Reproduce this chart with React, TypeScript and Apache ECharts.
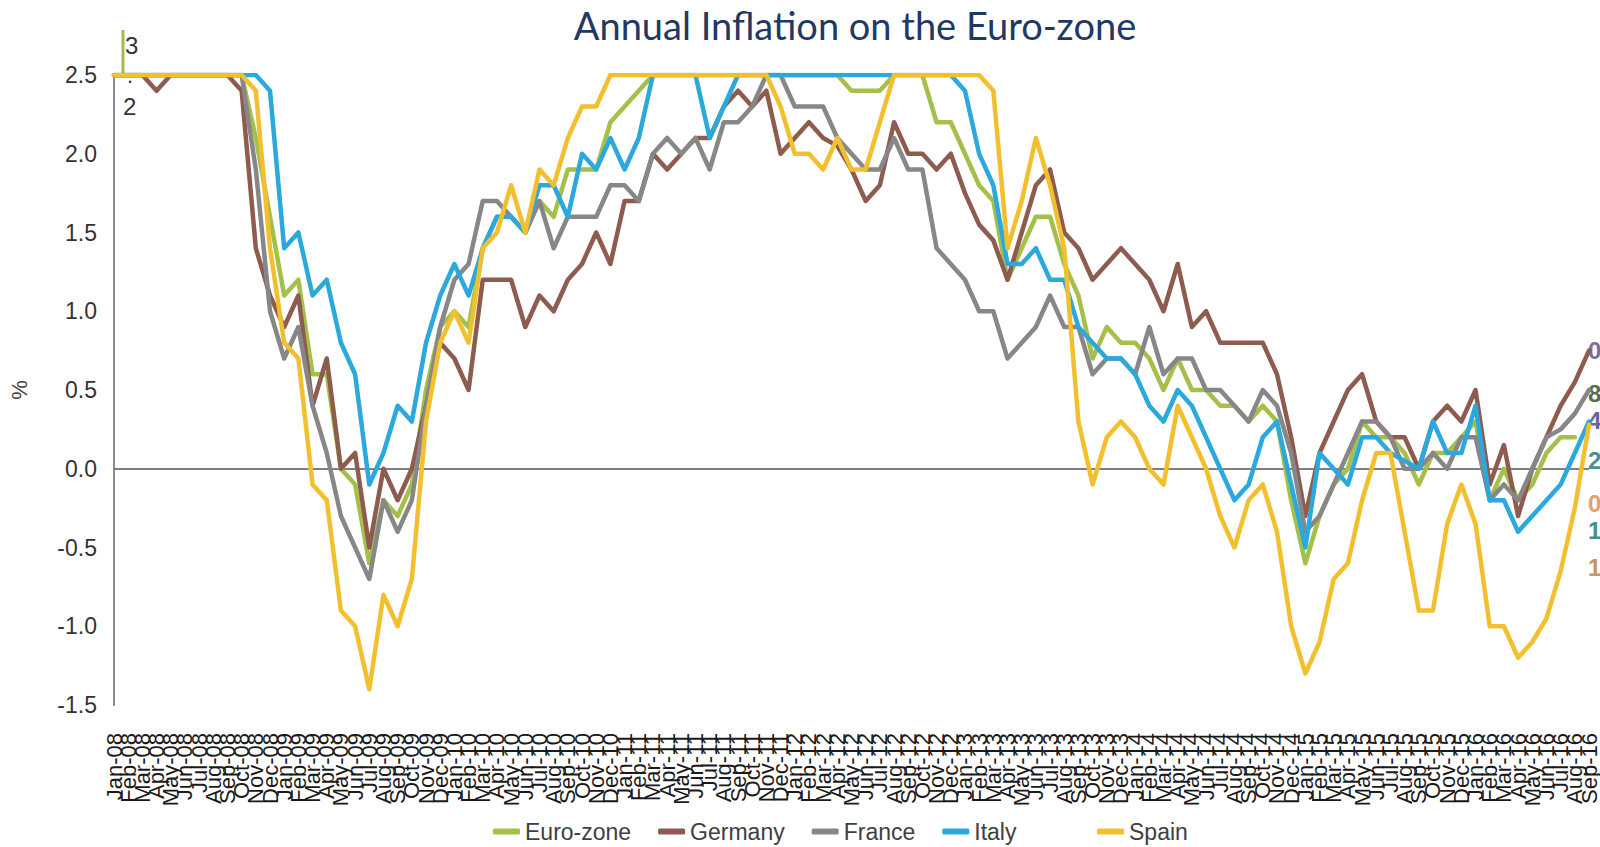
import React, { useEffect, useRef } from "react";
import * as echarts from "echarts";

// ---- Tick labels / categories ----
const MONTHS = ["Jan", "Feb", "Mar", "Apr", "May", "Jun", "Jul", "Aug", "Sep", "Oct", "Nov", "Dec"];
const YEARS = ["08", "09", "10", "11", "12", "13", "14", "15", "16"];
const MONTHS_IN_LAST_YEAR = 9; // Jan-16 .. Sep-16

const categories: string[] = [];
YEARS.forEach((y, yi) => {
  MONTHS.forEach((m, mi) => {
    if (yi < YEARS.length - 1 || mi < MONTHS_IN_LAST_YEAR) categories.push(`${m}-${y}`);
  });
});

// ---- Series values (annual inflation, %; values above the axis top read as 2.5) ----
const euroZone = [
  2.5, 2.5, 2.5, 2.5, 2.5, 2.5, 2.5, 2.5, 2.5, 2.5, 2.1, 1.6,
  1.1, 1.2, 0.6, 0.6, 0.0, -0.1, -0.6, -0.2, -0.3, -0.1, 0.5, 0.9,
  1.0, 0.9, 1.4, 1.6, 1.6, 1.5, 1.7, 1.6, 1.9, 1.9, 1.9, 2.2,
  2.3, 2.4, 2.5, 2.5, 2.5, 2.5, 2.5, 2.5, 2.5, 2.5, 2.5, 2.5,
  2.5, 2.5, 2.5, 2.5, 2.4, 2.4, 2.4, 2.5, 2.5, 2.5, 2.2, 2.2,
  2.0, 1.8, 1.7, 1.2, 1.4, 1.6, 1.6, 1.3, 1.1, 0.7, 0.9, 0.8,
  0.8, 0.7, 0.5, 0.7, 0.5, 0.5, 0.4, 0.4, 0.3, 0.4, 0.3, -0.2,
  -0.6, -0.3, -0.1, 0.0, 0.3, 0.2, 0.2, 0.1, -0.1, 0.1, 0.1, 0.2,
  0.3, -0.2, 0.0, -0.2, -0.1, 0.1, 0.2, 0.2,
];
const germany = [
  2.5, 2.5, 2.5, 2.4, 2.5, 2.5, 2.5, 2.5, 2.5, 2.4, 1.4, 1.1,
  0.9, 1.1, 0.4, 0.7, 0.0, 0.1, -0.5, 0.0, -0.2, 0.0, 0.4, 0.8,
  0.7, 0.5, 1.2, 1.2, 1.2, 0.9, 1.1, 1.0, 1.2, 1.3, 1.5, 1.3,
  1.7, 1.7, 2.0, 1.9, 2.0, 2.1, 2.1, 2.3, 2.4, 2.3, 2.4, 2.0,
  2.1, 2.2, 2.1, 2.05, 1.9, 1.7, 1.8, 2.2, 2.0, 2.0, 1.9, 2.0,
  1.75, 1.55, 1.45, 1.2, 1.5, 1.8, 1.9, 1.5, 1.4, 1.2, 1.3, 1.4,
  1.3, 1.2, 1.0, 1.3, 0.9, 1.0, 0.8, 0.8, 0.8, 0.8, 0.6, 0.2,
  -0.3, 0.1, 0.3, 0.5, 0.6, 0.3, 0.2, 0.2, 0.0, 0.3, 0.4, 0.3,
  0.5, -0.1, 0.15, -0.3, 0.0, 0.2, 0.4, 0.55, 0.75,
];
const france = [
  2.5, 2.5, 2.5, 2.5, 2.5, 2.5, 2.5, 2.5, 2.5, 2.5, 1.9, 1.0,
  0.7, 0.9, 0.4, 0.1, -0.3, -0.5, -0.7, -0.2, -0.4, -0.2, 0.4, 0.9,
  1.2, 1.3, 1.7, 1.7, 1.6, 1.5, 1.7, 1.4, 1.6, 1.6, 1.6, 1.8,
  1.8, 1.7, 2.0, 2.1, 2.0, 2.1, 1.9, 2.2, 2.2, 2.3, 2.5, 2.5,
  2.3, 2.3, 2.3, 2.1, 2.0, 1.9, 1.9, 2.1, 1.9, 1.9, 1.4, 1.3,
  1.2, 1.0, 1.0, 0.7, 0.8, 0.9, 1.1, 0.9, 0.9, 0.6, 0.7, 0.7,
  0.6, 0.9, 0.6, 0.7, 0.7, 0.5, 0.5, 0.4, 0.3, 0.5, 0.4, 0.1,
  -0.4, -0.3, -0.1, 0.1, 0.3, 0.3, 0.2, 0.0, 0.0, 0.1, 0.0, 0.2,
  0.2, -0.2, -0.1, -0.2, 0.0, 0.2, 0.25, 0.35, 0.5,
];
const italy = [
  2.5, 2.5, 2.5, 2.5, 2.5, 2.5, 2.5, 2.5, 2.5, 2.5, 2.5, 2.4,
  1.4, 1.5, 1.1, 1.2, 0.8, 0.6, -0.1, 0.1, 0.4, 0.3, 0.8, 1.1,
  1.3, 1.1, 1.4, 1.6, 1.6, 1.5, 1.8, 1.8, 1.6, 2.0, 1.9, 2.1,
  1.9, 2.1, 2.5, 2.5, 2.5, 2.5, 2.1, 2.3, 2.5, 2.5, 2.5, 2.5,
  2.5, 2.5, 2.5, 2.5, 2.5, 2.5, 2.5, 2.5, 2.5, 2.5, 2.5, 2.5,
  2.4, 2.0, 1.8, 1.3, 1.3, 1.4, 1.2, 1.2, 0.9, 0.8, 0.7, 0.7,
  0.6, 0.4, 0.3, 0.5, 0.4, 0.2, 0.0, -0.2, -0.1, 0.2, 0.3, -0.1,
  -0.5, 0.1, 0.0, -0.1, 0.2, 0.2, 0.1, 0.05, 0.0, 0.3, 0.1, 0.1,
  0.4, -0.2, -0.2, -0.4, -0.3, -0.2, -0.1, 0.1, 0.3,
];
const spain = [
  2.5, 2.5, 2.5, 2.5, 2.5, 2.5, 2.5, 2.5, 2.5, 2.5, 2.4, 1.4,
  0.8, 0.7, -0.1, -0.2, -0.9, -1.0, -1.4, -0.8, -1.0, -0.7, 0.3, 0.8,
  1.0, 0.8, 1.4, 1.5, 1.8, 1.5, 1.9, 1.8, 2.1, 2.3, 2.3, 2.5,
  2.5, 2.5, 2.5, 2.5, 2.5, 2.5, 2.5, 2.5, 2.5, 2.5, 2.5, 2.3,
  2.0, 2.0, 1.9, 2.1, 1.9, 1.9, 2.2, 2.5, 2.5, 2.5, 2.5, 2.5,
  2.5, 2.5, 2.4, 1.4, 1.7, 2.1, 1.8, 1.4, 0.3, -0.1, 0.2, 0.3,
  0.2, 0.0, -0.1, 0.4, 0.2, 0.0, -0.3, -0.5, -0.2, -0.1, -0.4, -1.0,
  -1.3, -1.1, -0.7, -0.6, -0.2, 0.1, 0.1, -0.4, -0.9, -0.9, -0.35, -0.1,
  -0.35, -1.0, -1.0, -1.2, -1.1, -0.95, -0.65, -0.25, 0.28,
];

const SERIES_NAMES = ["Euro-zone", "Germany", "France", "Italy", "Spain"];
const SERIES_DATA = [euroZone, germany, france, italy, spain];
const SERIES_COLORS = ["#A4C04B", "#8E5B4F", "#878787", "#2BA8DC", "#F2BF2F"];

// Y axis ticks
const Y_MIN = -1.5;
const Y_MAX = 2.5;
const Y_STEP = 0.5;

// Clipped data-label fragments seen at the chart edges
const FIRST_LABEL_CHARS = ["3", ".", "2"];
const END_LABEL_CHARS = ["0", "8", "4", "2", "0", "1", "1"];
const END_LABEL_COLORS = ["#7B6F96", "#55704E", "#6A61A0", "#4E8F8C", "#E0A070", "#4A8A95", "#C8946A"];
const END_LABEL_Y = [350, 393, 420, 460, 503, 530, 567];

const FONT = "'Liberation Sans', Arial, sans-serif";

export default function App() {
  const ref = useRef<HTMLDivElement>(null);

  useEffect(() => {
    document.body.style.margin = "0";
    if (!ref.current) return;
    const chart = echarts.init(ref.current, null, { renderer: "svg" });

    const series: any[] = SERIES_NAMES.map((name, i) => ({
      name,
      type: "line",
      data: SERIES_DATA[i],
      showSymbol: false,
      symbol: "none",
      z: 2 + i,
      emphasis: { disabled: true },
      itemStyle: { color: SERIES_COLORS[i] },
      lineStyle: { width: 4.5, color: SERIES_COLORS[i], join: "round", cap: "round" },
    }));
    series[0].markLine = {
      silent: true,
      symbol: ["none", "none"],
      label: { show: false },
      lineStyle: { color: "#7f7f7f", width: 2, type: "solid" },
      data: [{ yAxis: 0 }],
      z: 1,
    };

    const graphics: any[] = [
      { type: "line", shape: { x1: 123, y1: 30, x2: 123, y2: 74 }, style: { stroke: "#A8B84C", lineWidth: 3 } },
      { type: "text", x: 125, y: 33, style: { text: FIRST_LABEL_CHARS[0], fontSize: 24, fill: "#333", fontFamily: FONT } },
      { type: "text", x: 127, y: 64, style: { text: FIRST_LABEL_CHARS[1], fontSize: 22, fill: "#333", fontFamily: FONT } },
      { type: "text", x: 123, y: 94, style: { text: FIRST_LABEL_CHARS[2], fontSize: 24, fill: "#333", fontFamily: FONT } },
      ...END_LABEL_CHARS.map((t, i) => ({
        type: "text",
        x: 1588,
        y: END_LABEL_Y[i],
        style: {
          text: t,
          fontSize: 24,
          fontWeight: "bold",
          fill: END_LABEL_COLORS[i],
          fontFamily: FONT,
          verticalAlign: "middle",
        },
      })),
    ];

    const legendCommon = {
      top: 815,
      icon: "roundRect",
      itemWidth: 27,
      itemHeight: 6,
      itemGap: 27,
      textStyle: { fontSize: 23, color: "#404040", fontFamily: FONT },
    };

    chart.setOption({
      animation: false,
      textStyle: { fontFamily: FONT },
      title: {
        text: "Annual Inflation on the Euro-zone",
        left: 850,
        textAlign: "center",
        top: 1,
        textStyle: { fontFamily: "Lato, 'Open Sans', sans-serif", fontSize: 38, fontWeight: "normal", color: "#1F3864" },
      },
      legend: [
        { ...legendCommon, data: SERIES_NAMES.slice(0, 4), left: 488 },
        { ...legendCommon, data: SERIES_NAMES.slice(4), left: 1092 },
      ],
      grid: { left: 110, right: 9, top: 75, bottom: 142, containLabel: false },
      xAxis: {
        type: "category",
        data: categories,
        boundaryGap: false,
        axisLine: { show: false },
        axisTick: { show: false },
        axisLabel: { interval: 0, rotate: 90, margin: 28, fontSize: 22, color: "#1a1a1a", fontFamily: FONT },
        splitLine: { show: false },
      },
      yAxis: {
        type: "value",
        min: Y_MIN,
        max: Y_MAX,
        interval: Y_STEP,
        name: "%",
        nameLocation: "middle",
        nameGap: 84,
        nameTextStyle: { fontSize: 22, color: "#404040", fontFamily: FONT },
        axisLine: { show: true, lineStyle: { color: "#8a8a8a", width: 2 } },
        axisTick: { show: false },
        splitLine: { show: false },
        axisLabel: {
          margin: 17,
          fontSize: 23,
          color: "#333",
          fontFamily: FONT,
          formatter: (v: number) => v.toFixed(1),
        },
      },
      graphic: graphics,
      series,
    });

    return () => chart.dispose();
  }, []);

  return (
    <div
      ref={ref}
      style={{ position: "absolute", left: 0, top: 0, width: 1600, height: 847 }}
    />
  );
}
